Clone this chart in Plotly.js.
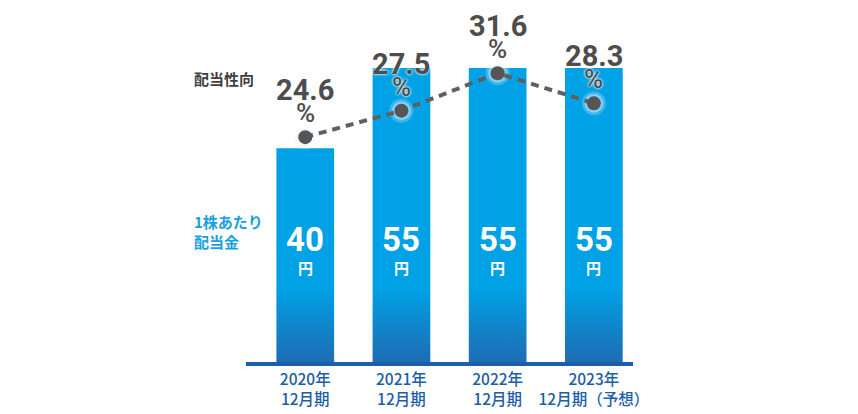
<!DOCTYPE html>
<html>
<head>
<meta charset="utf-8">
<script src="https://cdn.plot.ly/plotly-3.0.1.min.js"></script>
<style>
  html, body { margin: 0; padding: 0; background: #fff; }
  #chart { width: 858px; height: 414px; }
</style>
</head>
<body>
<div id="chart"></div>
<script>
// ---- data ----
const categories = ["2020年<br>12月期", "2021年<br>12月期", "2022年<br>12月期", "2023年<br>12月期（予想）"];
const dividend = [40, 55, 55, 55];          // 1株あたり配当金 (円)
const payoutRatio = [24.6, 27.5, 31.6, 28.3]; // 配当性向 (%)
const xIdx = [0, 1, 2, 3];

const CJK = '"Noto Sans CJK JP", "Noto Sans", sans-serif';
const NUM = 'Roboto, "Noto Sans", sans-serif';
const GRAY = '#4d4d4d';
const NAVY = '#1c5ea8';
const CYAN = '#1aa0e0';

const traces = [
  {
    type: 'bar', x: xIdx, y: dividend, width: 0.6,
    marker: { color: '#00a2e6', line: { width: 0 } },
    hoverinfo: 'skip', yaxis: 'y'
  },
  { // soft glow behind markers (outer)
    type: 'scatter', mode: 'markers', x: xIdx, y: payoutRatio, yaxis: 'y2',
    marker: { size: 24, color: 'rgba(235,245,255,0.25)', line: { width: 0 } },
    hoverinfo: 'skip'
  },
  { // soft glow behind markers (inner)
    type: 'scatter', mode: 'markers', x: xIdx, y: payoutRatio, yaxis: 'y2',
    marker: { size: 19, color: 'rgba(235,245,255,0.4)', line: { width: 0 } },
    hoverinfo: 'skip'
  },
  {
    type: 'scatter', mode: 'lines+markers', x: xIdx, y: payoutRatio, yaxis: 'y2',
    line: { color: '#606060', width: 4, dash: '8px,6px' },
    marker: { size: 14, color: '#555555', line: { width: 0 } },
    hoverinfo: 'skip'
  }
];

const annotations = [];
payoutRatio.forEach((v, i) => {
  annotations.push({
    x: i, y: v, xref: 'x', yref: 'y2', text: v.toFixed(1), showarrow: false,
    yshift: 47, xanchor: 'center', yanchor: 'middle', borderpad: 0,
    font: { family: NUM, size: 29, color: GRAY, weight: 700, shadow: '0 0 3px #fff, 0 0 2px #fff' }
  });
  annotations.push({
    x: i, y: v, xref: 'x', yref: 'y2', text: '%', showarrow: false,
    yshift: 24, xanchor: 'center', yanchor: 'middle', borderpad: 0,
    font: { family: NUM, size: 26, color: GRAY, weight: 500, shadow: '0 0 3px #fff, 0 0 2px #fff' }
  });
});
dividend.forEach((v, i) => {
  annotations.push({
    x: i, y: 0.3466, xref: 'x', yref: 'paper', text: String(v), showarrow: false,
    xanchor: 'center', yanchor: 'middle', borderpad: 0,
    font: { family: NUM, size: 33, color: '#ffffff', weight: 700 }
  });
  annotations.push({
    x: i, y: 0.268, xref: 'x', yref: 'paper', text: '円', showarrow: false,
    xanchor: 'center', yanchor: 'middle', borderpad: 0,
    font: { family: CJK, size: 15, color: '#ffffff', weight: 700 }
  });
});
// side labels
annotations.push({
  x: -0.1395, y: (362 - 78) / 352, xref: 'paper', yref: 'paper', text: '配当性向',
  showarrow: false, xanchor: 'left', yanchor: 'middle',
  font: { family: CJK, size: 15, color: '#3f3f3f', weight: 700 }
});
annotations.push({
  x: -0.1395, y: (362 - 231) / 352, xref: 'paper', yref: 'paper', text: '1株あたり<br>配当金',
  showarrow: false, xanchor: 'left', yanchor: 'middle', align: 'left',
  font: { family: CJK, size: 15, color: CYAN, weight: 700 }
});

const layout = {
  width: 858, height: 414,
  margin: { l: 246, r: 225, t: 10, b: 52, pad: 0 },
  paper_bgcolor: '#ffffff', plot_bgcolor: '#ffffff',
  showlegend: false,
  bargap: 0.4,
  xaxis: {
    range: [-0.616, 3.407], tickvals: xIdx, ticktext: categories,
    showgrid: false, zeroline: false, showline: true, linecolor: NAVY, linewidth: 4,
    ticks: '', ticklen: 0,
    tickfont: { family: CJK, size: 15.5, color: NAVY, weight: 500 },
    fixedrange: true
  },
  yaxis: {
    range: [0, 352 / 5.345], visible: false, showgrid: false, zeroline: false, fixedrange: true
  },
  yaxis2: {
    range: [0, 352 / 9.14], overlaying: 'y', visible: false, showgrid: false, zeroline: false, fixedrange: true
  },
  annotations: annotations
};

Plotly.newPlot('chart', traces, layout, { displayModeBar: false, staticPlot: true }).then(gd => {
  const svg = gd.querySelector('svg.main-svg');
  const ns = 'http://www.w3.org/2000/svg';
  let defs = svg.querySelector('defs');
  if (!defs) { defs = document.createElementNS(ns, 'defs'); svg.insertBefore(defs, svg.firstChild); }
  const ya = gd._fullLayout.yaxis;
  const bottom = ya._length;
  const grad = document.createElementNS(ns, 'linearGradient');
  grad.setAttribute('id', 'barGrad');
  grad.setAttribute('gradientUnits', 'userSpaceOnUse');
  grad.setAttribute('x1', '0'); grad.setAttribute('x2', '0');
  grad.setAttribute('y1', String(bottom - 75)); grad.setAttribute('y2', String(bottom));
  [['0', '#00a2e6'], ['1', '#1f6cb3']].forEach(([o, c]) => {
    const s = document.createElementNS(ns, 'stop');
    s.setAttribute('offset', o); s.setAttribute('stop-color', c);
    grad.appendChild(s);
  });
  defs.appendChild(grad);
  gd.querySelectorAll('.barlayer .point path').forEach(p => { p.style.fill = 'url(#barGrad)'; });
});
</script>
</body>
</html>
